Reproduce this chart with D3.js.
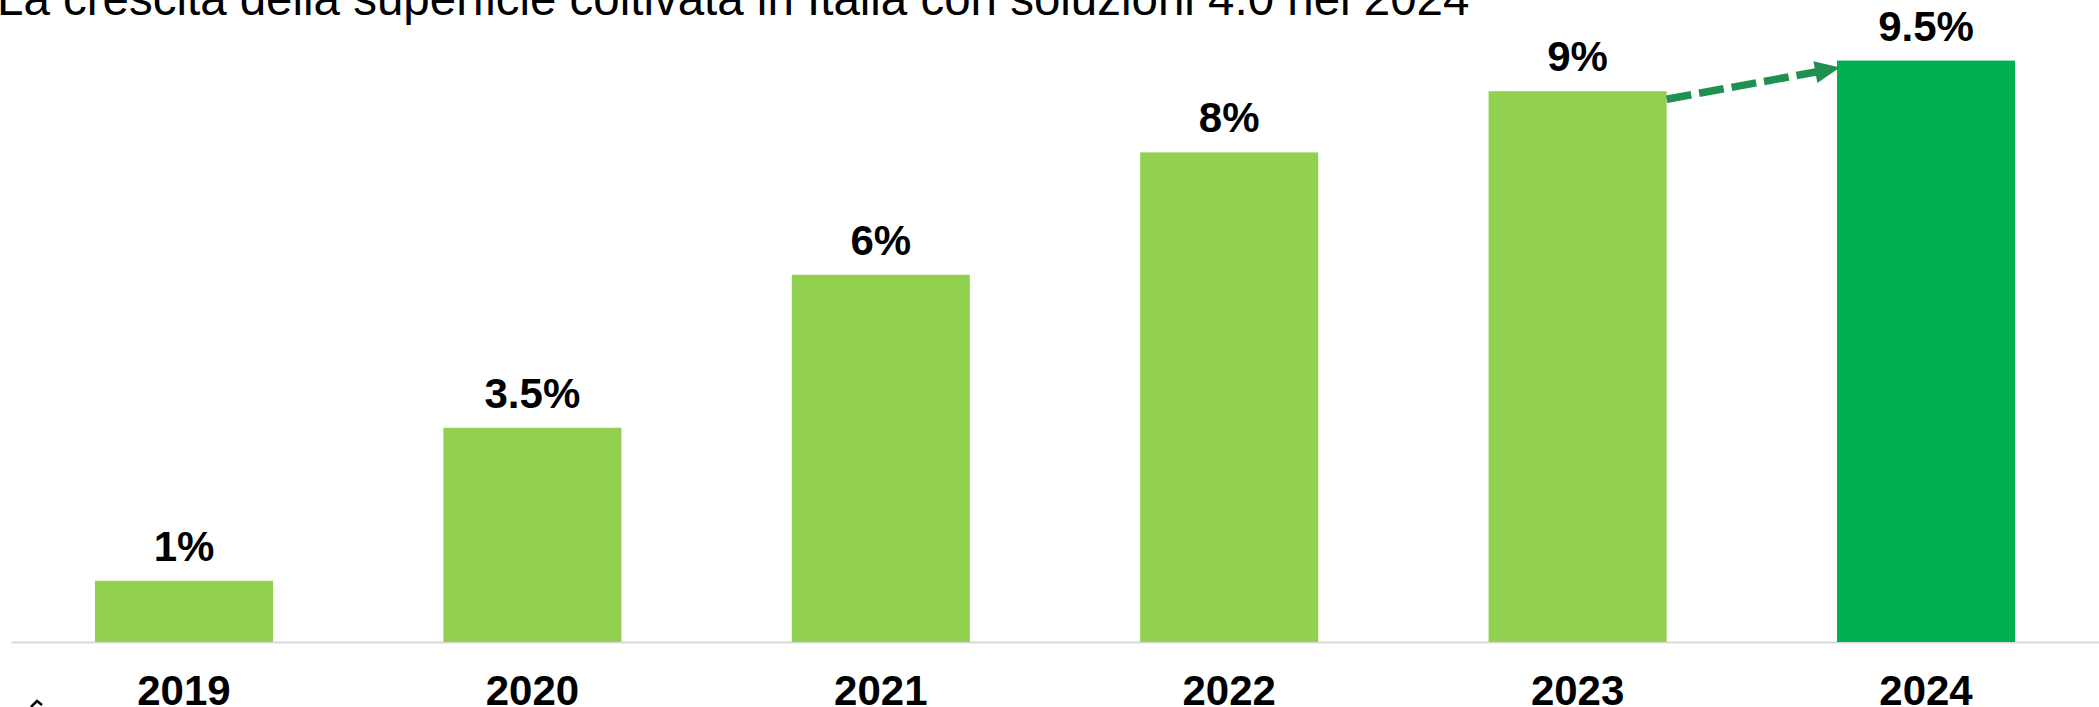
<!DOCTYPE html>
<html><head><meta charset="utf-8">
<script src="https://cdn.jsdelivr.net/npm/d3@7"></script>
<style>html,body{margin:0;padding:0;background:#fff;overflow:hidden}</style>
</head><body>
<svg id="c" width="2099" height="707"></svg>
<script>
const categories = ["2019","2020","2021","2022","2023","2024"];
const values = [1, 3.5, 6, 8, 9, 9.5];
const valueLabels = ["1%","3.5%","6%","8%","9%","9.5%"];
const titleText = "La crescita della superficie coltivata in Italia con soluzioni 4.0 nel 2024";

const W = 2099, H = 707;
const svg = d3.select("#c");
const font = "'Liberation Sans', Arial, sans-serif";

const x = d3.scaleBand().domain(categories).range([11, 2099]).paddingInner(0.489).paddingOuter(0.241);
const y = d3.scaleLinear().domain([0, 10]).range([642, 30]);

const colorFor = (d, i) => i === categories.length - 1 ? "#00B050" : "#92D050";

// axis baseline
const xAxis = d3.axisBottom(x).tickSize(0).tickPadding(0);
const gx = svg.append("g").attr("transform", `translate(0,${y(0)})`).call(xAxis);
gx.select(".domain").attr("stroke", "#d9d9d9").attr("stroke-width", 2);
gx.selectAll(".tick text").attr("font-family", font).attr("font-weight", "bold")
  .attr("font-size", 42).attr("fill", "#000").attr("dy", null).attr("y", 63);

// bars
svg.append("g").selectAll("rect").data(values).join("rect")
  .attr("x", (d, i) => x(categories[i]))
  .attr("width", x.bandwidth())
  .attr("y", d => y(d))
  .attr("height", d => y(0) - y(d))
  .attr("fill", colorFor);

// value labels
svg.append("g").selectAll("text").data(values).join("text")
  .attr("x", (d, i) => x(categories[i]) + x.bandwidth() / 2)
  .attr("y", d => y(d) - 20)
  .attr("text-anchor", "middle")
  .attr("font-family", font).attr("font-weight", "bold").attr("font-size", 42)
  .attr("fill", "#000")
  .text((d, i) => valueLabels[i]);

// dashed arrow from 2023 to 2024
const a = categories.length - 2, b = categories.length - 1;
const x1 = x(categories[a]) + x.bandwidth(), y1 = y(values[a]) + 8;
const x2 = x(categories[b]) + 3, y2 = y(values[b]) + 7;
svg.append("line").attr("x1", x1).attr("y1", y1).attr("x2", x2 - 20).attr("y2", y2 + (y1 - y2) * 20 / (x2 - x1))
  .attr("stroke", "#1E9150").attr("stroke-width", 7.5).attr("stroke-dasharray", "25,8");
svg.append("path")
  .attr("d", (() => {
    const ang = Math.atan2(y2 - y1, x2 - x1);
    const L = 25, Wd = 11;
    const bx = x2 - L * Math.cos(ang), by = y2 - L * Math.sin(ang);
    const px = -Math.sin(ang) * Wd, py = Math.cos(ang) * Wd;
    return `M${x2},${y2} L${bx + px},${by + py} L${bx - px},${by - py} Z`;
  })())
  .attr("fill", "#1E9150");

// title (clipped at top)
const t = svg.append("text").attr("x", -3).attr("y", 15)
  .attr("font-family", font).attr("font-size", 44).attr("fill", "#000").text(titleText);
const len = t.node().getComputedTextLength();
t.attr("font-size", 44 * 1473 / len);

// small cropped glyph bottom-left
svg.append("path").attr("d", "M31,707 L37,701 L42,705").attr("fill", "none")
  .attr("stroke", "#000").attr("stroke-width", 2.5);
</script>
</body></html>
